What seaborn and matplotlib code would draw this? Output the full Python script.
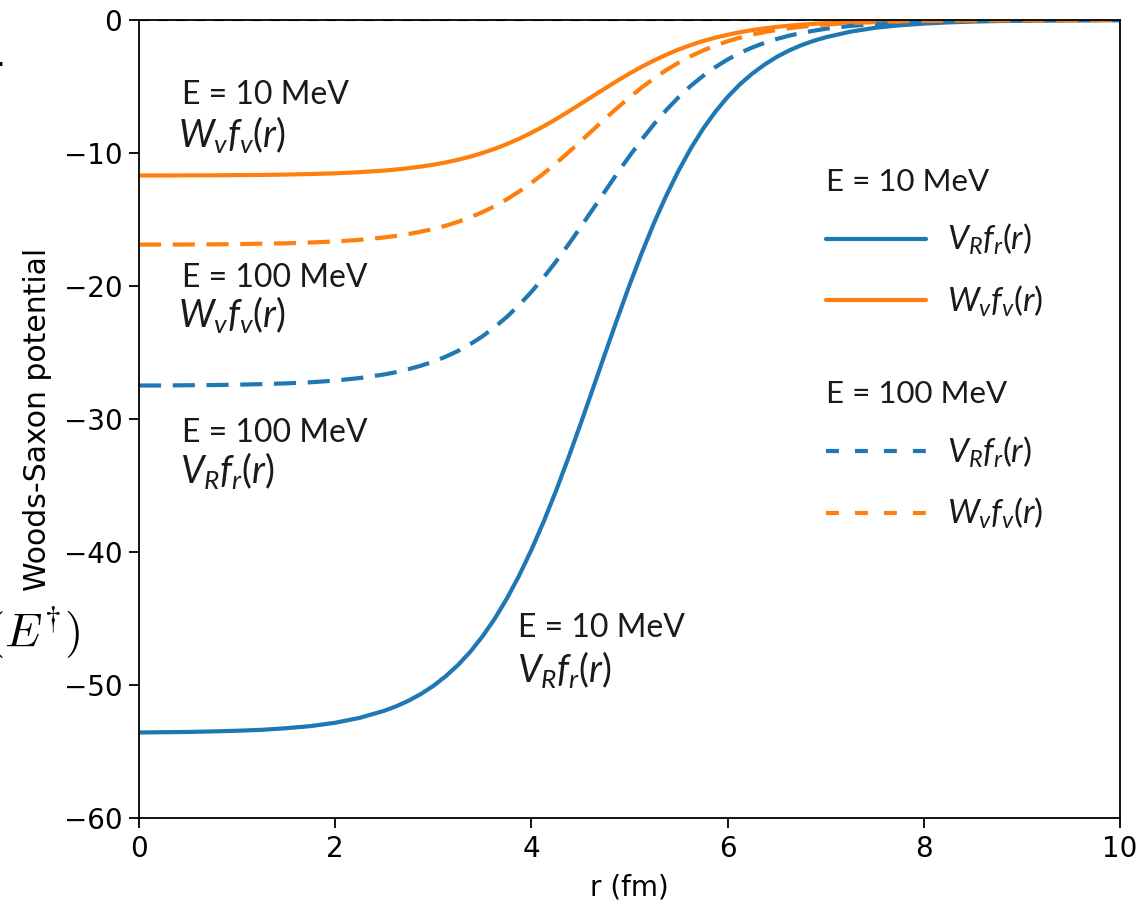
import numpy as np
import pandas as pd
import matplotlib
matplotlib.use("Agg")
import matplotlib.pyplot as plt
from matplotlib.lines import Line2D
import seaborn as sns

# ---------------- data ----------------
r_fm = [0.0, 0.25, 0.5, 0.75, 1.0, 1.25, 1.5, 1.75, 2.0, 2.25, 2.5,
        2.625, 2.75, 2.875, 3.0, 3.125, 3.25, 3.375, 3.5, 3.625, 3.75,
        3.875, 4.0, 4.125, 4.25, 4.375, 4.5, 4.625, 4.75, 4.875, 5.0,
        5.125, 5.25, 5.375, 5.5, 5.625, 5.75, 5.875, 6.0, 6.125, 6.25,
        6.375, 6.5, 6.625, 6.75, 6.875, 7.0,
        7.25, 7.5, 7.75, 8.0, 8.25, 8.5, 8.75, 9.0, 9.25, 9.5, 9.75, 10.0]

# E = 10 MeV, real part V_R f_r(r)
vr_10 = [-53.57, -53.55, -53.53, -53.49, -53.44, -53.37, -53.25, -53.09,
         -52.84, -52.47, -51.94,
         -51.59, -51.17, -50.67, -50.07, -49.35, -48.51, -47.52, -46.36,
         -45.03, -43.50, -41.77, -39.84, -37.72, -35.42, -32.96, -30.40,
         -27.76, -25.10, -22.48, -19.93, -17.52, -15.26, -13.20, -11.33,
         -9.65, -8.18, -6.90, -5.79, -4.84, -4.04, -3.36, -2.78, -2.30,
         -1.90, -1.57, -1.30,
         -0.88, -0.59, -0.40, -0.27, -0.18, -0.12, -0.08, -0.06, -0.04,
         -0.03, -0.02, -0.01]
# E = 10 MeV, imaginary part W_v f_v(r)
wv_10 = [-11.69, -11.69, -11.68, -11.68, -11.66, -11.65, -11.62, -11.58,
         -11.53, -11.44, -11.32,
         -11.24, -11.14, -11.02, -10.88, -10.71, -10.51, -10.28, -10.00,
         -9.69, -9.33, -8.93, -8.48, -7.99, -7.46, -6.90, -6.32, -5.73,
         -5.15, -4.57, -4.03, -3.51, -3.04, -2.61, -2.22, -1.88, -1.58,
         -1.33, -1.11, -0.92, -0.76, -0.63, -0.52, -0.43, -0.35, -0.29,
         -0.24,
         -0.16, -0.11, -0.07, -0.05, -0.03, -0.02, -0.01, -0.01, -0.01,
         0.0, 0.0, 0.0]
# E = 100 MeV, real part V_R f_r(r)
vr_100 = [-27.48, -27.48, -27.46, -27.45, -27.42, -27.38, -27.32, -27.24,
          -27.11, -26.92, -26.65,
          -26.47, -26.25, -25.99, -25.69, -25.32, -24.89, -24.38, -23.79,
          -23.10, -22.32, -21.43, -20.44, -19.35, -18.17, -16.91, -15.59,
          -14.24, -12.88, -11.53, -10.23, -8.99, -7.83, -6.77, -5.81,
          -4.95, -4.20, -3.54, -2.97, -2.48, -2.07, -1.72, -1.43, -1.18,
          -0.98, -0.81, -0.66,
          -0.45, -0.30, -0.21, -0.14, -0.09, -0.06, -0.04, -0.03, -0.02,
          -0.01, -0.01, -0.01]
# E = 100 MeV, imaginary part W_v f_v(r)
wv_100 = [-16.89, -16.88, -16.88, -16.87, -16.85, -16.82, -16.79, -16.73,
          -16.65, -16.53, -16.35,
          -16.23, -16.09, -15.91, -15.71, -15.47, -15.18, -14.84, -14.45,
          -14.00, -13.48, -12.89, -12.25, -11.54, -10.78, -9.97, -9.13,
          -8.28, -7.43, -6.61, -5.82, -5.07, -4.39, -3.76, -3.21, -2.72,
          -2.29, -1.92, -1.60, -1.33, -1.10, -0.91, -0.75, -0.62, -0.51,
          -0.42, -0.34,
          -0.23, -0.16, -0.10, -0.07, -0.05, -0.03, -0.02, -0.01, -0.01,
          -0.01, 0.0, 0.0]

x_ticks = [0, 2, 4, 6, 8, 10]
y_ticks = [0, -10, -20, -30, -40, -50, -60]

# ---------------- style ----------------
sns.set_theme(style="ticks")
plt.rcParams["font.family"] = ["DejaVu Sans"]
plt.rcParams["mathtext.fontset"] = "custom"
plt.rcParams["mathtext.it"] = "Lato:italic"
plt.rcParams["mathtext.rm"] = "Lato"
plt.rcParams["mathtext.bf"] = "Lato:bold"
plt.rcParams["axes.edgecolor"] = "black"
plt.rcParams["axes.linewidth"] = 1.3

BLUE = "#1f77b4"
ORANGE = "#ff7f0e"
LW = 3.0
DASH = (5.3, 2.8)          # dash pattern on the curves
LEG_DASH = (3.1, 3.85)     # dash pattern on the legend samples
TXT = "#1a1a1a"

fig = plt.figure(figsize=(11.4, 9.1), dpi=100)
ax = fig.add_axes([139 / 1140, 92 / 910, 981 / 1140, 798 / 910])

df = pd.DataFrame({"r": r_fm, "vr10": vr_10, "wv10": wv_10,
                   "vr100": vr_100, "wv100": wv_100})

ax.axhline(0, color="black", lw=1.5, ls=(0, (5, 4)), zorder=1.5)

series = [("vr10", BLUE, "-"), ("wv10", ORANGE, "-"),
          ("vr100", BLUE, "--"), ("wv100", ORANGE, "--")]
for col, c, ls in series:
    n_before = len(ax.lines)
    sns.lineplot(data=df, x="r", y=col, ax=ax, color=c, lw=LW, zorder=2)
    line = ax.lines[n_before]
    if ls == "--":
        line.set_dashes(DASH)

ax.set_xlim(0, 10)
ax.set_ylim(-60, 0)
ax.set_xticks(x_ticks)
ax.set_yticks(y_ticks)
ax.tick_params(axis="both", labelsize=20, length=7, width=1.3, color="black",
               labelcolor="black", pad=5)
for s in ax.spines.values():
    s.set_visible(True)
    s.set_linewidth(1.3)
    s.set_color("black")

ax.set_xlabel("r (fm)", fontsize=20, color="black", labelpad=8)
ax.set_ylabel("Woods-Saxon potential", fontsize=21.5, color="black")
ax.yaxis.set_label_coords(-0.089, 0.5)

# in-plot annotations
e_font = dict(family="Lato", fontsize=23, color=TXT, va="baseline")
m_font = dict(fontsize=27, color=TXT, va="baseline")
ax.text(0.44, -6.3, "E = 10 MeV", **e_font)
ax.text(0.40, -9.55, r"$W_v f_v\mathit{(r)}$", **m_font)
ax.text(0.44, -20.1, "E = 100 MeV", **e_font)
ax.text(0.40, -23.1, r"$W_v f_v\mathit{(r)}$", **m_font)
ax.text(0.44, -31.7, "E = 100 MeV", **e_font)
ax.text(0.42, -34.8, r"$V_R f_r\mathit{(r)}$", **m_font)
ax.text(3.86, -46.4, "E = 10 MeV", **e_font)
ax.text(3.85, -49.8, r"$V_R f_r\mathit{(r)}$", **m_font)

# legends (two groups); sample lines only, no data
def sample(color, dashed):
    h = Line2D([], [], color=color, lw=LW)
    if dashed:
        h.set_dashes(LEG_DASH)
    return h

leg_kw = dict(loc="upper left", frameon=False, fontsize=24,
              title_fontproperties={"family": "Lato", "size": 22.5},
              alignment="left", handlelength=3.0, handletextpad=0.63,
              labelspacing=0.8, borderpad=0, borderaxespad=0)
labels = [r"$V_R f_r\mathit{(r)}$", r"$W_v f_v\mathit{(r)}$"]
leg1 = ax.legend([sample(BLUE, False), sample(ORANGE, False)], labels,
                 title="E = 10 MeV", bbox_to_anchor=(0.700, 0.815), **leg_kw)
ax.add_artist(leg1)
leg2 = ax.legend([sample(BLUE, True), sample(ORANGE, True)], labels,
                 title="E = 100 MeV", bbox_to_anchor=(0.700, 0.549), **leg_kw)
for lg in (leg1, leg2):
    lg.get_title().set_color(TXT)
    for t in lg.get_texts():
        t.set_color(TXT)

# fragments of neighbouring content visible at the left edge of the reference
fig.text(80 / 1140, 1 - 647 / 910, r"$(E^{\dagger})$", ha="right",
         va="baseline", fontsize=34, math_fontfamily="cm", color="black")
fig.text(-0.004, 1 - 66 / 910, ".", fontsize=22, color="black", ha="left",
         va="baseline")

fig.savefig("out.png", dpi=100)
